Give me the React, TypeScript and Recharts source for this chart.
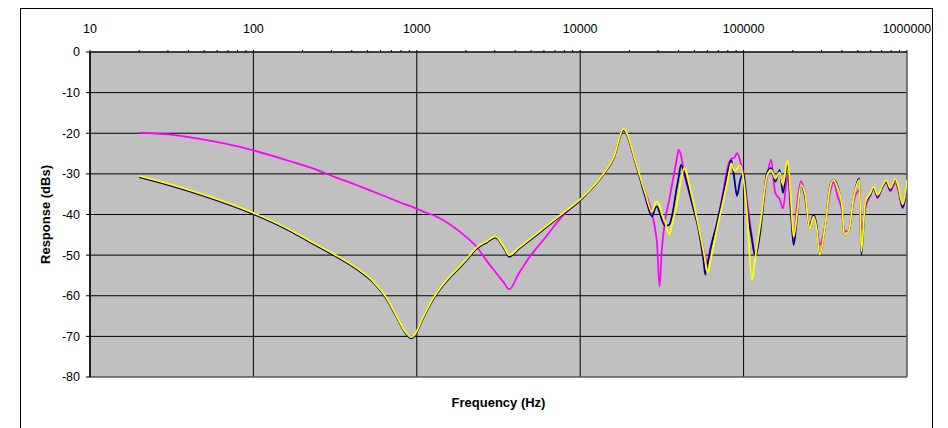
import React from 'react';
import { LineChart, Line, XAxis, YAxis, CartesianGrid, ReferenceArea } from 'recharts';

const freqHz = [
  20, 30, 47, 100, 168, 222, 316, 430, 543, 655, 755, 849, 925, 960, 1098, 1264, 1390, 2000, 2330, 2700, 3020, 3400, 3680,
  4200, 4940, 6000, 7910, 10000, 13800, 16000, 18400, 22200,
  25000, 27500, 28800, 29500, 30600, 31600, 33100, 35100, 36400, 39100, 40000, 41400, 43300, 48300, 53000,
  56900, 58300, 60200, 62500, 68700, 75400, 80900, 84000, 88000, 91100, 95400, 100000, 104900, 112500,
  117900, 126500, 139000, 147100, 156300, 166100, 174200, 185900, 195000, 202300, 212200, 224500, 238500,
  253400, 268100, 281300, 291800, 316200, 339300, 355400, 376200, 400200, 413400, 439100, 471200, 510700,
  525300, 555600, 596400, 624800, 661000, 703200, 747000, 790500, 848100, 888600, 940200, 1000000,
];

const magentaDb = [
  -19.9, -20.3, -21.4, -24.2, -26.9, -28.4, -30.8, -32.8, -34.4, -35.7, -36.7, -37.5, -38.0, -38.3, -39.3, -40.2, -41.0, -45.5, -48.0, -51.6, -54.1, -56.7, -58.4,
  -54.6, -50.3, -46.1, -40.1, -36.5, -30.3, -26.3, -19.2, -28.5,
  -34.5, -39.7, -43.8, -47.0, -57.7, -48.7, -41.3, -36.4, -32.8, -26.1, -24.1, -25.5, -30.0, -36.8, -43.0,
  -48.7, -50.5, -52.3, -48.7, -42.5, -33.8, -27.5, -26.3, -26.0, -24.9, -26.8, -30.6, -36.5, -45.5,
  -50.3, -43.4, -31.0, -26.5, -34.7, -36.2, -38.5, -30.5, -40.0, -46.0, -37.6, -31.8, -35.2,
  -42.5, -40.1, -43.4, -47.5, -42.5, -34.3, -32.0, -35.6, -39.3, -44.0, -44.2, -36.8, -34.0,
  -44.0, -38.5, -35.2, -33.5, -36.0, -33.5, -32.3, -34.3, -32.3, -34.3, -38.5, -31.9,
];

const navyDb = [
  -30.8, -32.7, -35.1, -39.9, -44.1, -46.8, -50.2, -53.5, -56.8, -60.9, -65.4, -69.1, -70.5, -70.1, -65.4, -60.8, -58.4, -51.4, -48.4, -46.8, -45.7, -48.2, -50.4,
  -48.5, -46.3, -43.6, -39.8, -36.5, -30.3, -26.2, -19.3, -28.3,
  -35.6, -40.5, -38.4, -38.0, -39.5, -41.3, -42.8, -42.5, -40.5, -33.1, -31.0, -27.8, -29.8, -37.2, -43.8,
  -51.5, -54.8, -52.0, -48.7, -42.1, -34.7, -28.6, -26.6, -31.5, -35.4, -31.5, -29.8, -38.0, -46.2,
  -50.3, -44.2, -29.8, -28.6, -31.9, -29.0, -34.7, -27.4, -39.3, -47.5, -40.9, -32.7, -36.0,
  -43.4, -40.1, -43.4, -49.9, -42.5, -32.7, -31.5, -33.1, -38.5, -45.0, -44.2, -36.0, -31.1,
  -49.9, -37.2, -35.2, -33.5, -35.6, -33.5, -31.9, -33.9, -31.5, -33.9, -38.2, -32.3,
];

const yellowDb = [
  -30.5, -32.4, -34.8, -39.6, -43.8, -46.5, -49.9, -53.2, -56.5, -60.6, -65.1, -68.8, -70.2, -69.8, -65.1, -60.5, -58.1, -51.1, -48.1, -46.5, -45.4, -47.9, -50.0,
  -48.2, -46.0, -43.3, -39.5, -36.3, -30.1, -26.0, -19.0, -28.0,
  -34.7, -39.3, -37.2, -36.8, -37.8, -39.8, -41.8, -45.0, -42.6, -37.2, -35.0, -31.5, -28.6, -35.5, -42.9,
  -49.1, -51.4, -54.4, -51.7, -43.5, -36.3, -30.5, -27.4, -29.3, -28.8, -27.9, -31.5, -39.5, -56.1,
  -50.5, -42.5, -30.5, -29.0, -31.1, -29.6, -32.7, -26.6, -36.8, -45.5, -40.1, -32.7, -35.2,
  -43.5, -40.5, -44.0, -49.9, -42.5, -33.0, -31.5, -33.5, -38.0, -45.0, -44.2, -36.0, -31.5,
  -49.1, -37.0, -34.8, -33.2, -35.2, -33.2, -31.6, -33.5, -31.2, -33.5, -37.5, -31.5,
];

const decadeTicks = [10, 100, 1000, 10000, 100000, 1000000];
const innerDecades = [100, 1000, 10000, 100000];
const minorMultipliers = [1, 2, 3, 4, 5, 6, 7, 8, 9];
const yTicks = [0, -10, -20, -30, -40, -50, -60, -70, -80];
const innerYTicks = [-10, -20, -30, -40, -50, -60, -70];

const xTicksAll = decadeTicks
  .slice(0, -1)
  .flatMap((d) => minorMultipliers.map((k) => k * d))
  .concat([1000000]);

const data = freqHz.map((f, i) => ({
  f,
  magenta: magentaDb[i],
  navy: navyDb[i],
  yellow: yellowDb[i],
}));

const FONT = '"Liberation Sans", Arial, sans-serif';

export default function App() {
  return (
    <div style={{ position: 'absolute', left: 0, top: 0, width: 948, height: 428, overflow: 'hidden', background: '#fff' }}>
      <div
        style={{
          position: 'absolute',
          left: 20,
          top: 8,
          width: 913,
          height: 440,
          border: '1px solid #000',
          boxSizing: 'border-box',
        }}
      />
      <div style={{ position: 'absolute', left: 0, top: 0 }}>
        <LineChart width={948} height={428} data={data} margin={{ top: 0, right: 41, bottom: 0, left: 0 }}>
          <CartesianGrid
            xAxisId="gridX"
            yAxisId="gridY"
            fill="#C0C0C0"
            fillOpacity={1}
            stroke="#000"
            strokeWidth={1}
          />
          <XAxis
            xAxisId="main"
            dataKey="f"
            type="number"
            scale="log"
            orientation="top"
            domain={[10, 1000000]}
            ticks={xTicksAll}
            interval={0}
            allowDataOverflow
            height={52}
            tickSize={2}
            tickMargin={17}
            axisLine={{ stroke: '#000', strokeWidth: 1 }}
            tickLine={{ stroke: '#000' }}
            tick={{ fill: '#000', fontSize: 12.5, fontFamily: FONT }}
            tickFormatter={(v: number) => (decadeTicks.includes(v) ? String(v) : '')}
          />
          <XAxis
            xAxisId="title"
            dataKey="f"
            type="number"
            scale="log"
            orientation="bottom"
            domain={[10, 1000000]}
            ticks={decadeTicks}
            allowDataOverflow
            height={51}
            tick={false}
            tickLine={false}
            axisLine={false}
            label={{
              value: 'Frequency (Hz)',
              position: 'center',
              style: { fill: '#000', fontSize: 13, fontWeight: 'bold', fontFamily: FONT },
            }}
          />
          <YAxis
            yAxisId="main"
            type="number"
            domain={[-80, 0]}
            ticks={yTicks}
            interval={0}
            allowDataOverflow
            width={90}
            tickSize={4}
            tickMargin={6}
            axisLine={{ stroke: '#000', strokeWidth: 1.5 }}
            tickLine={{ stroke: '#000' }}
            tick={{ fill: '#000', fontSize: 12.5, fontFamily: FONT }}
            label={{
              value: 'Response (dBs)',
              angle: -90,
              position: 'center',
              style: { fill: '#000', fontSize: 13, fontWeight: 'bold', fontFamily: FONT },
            }}
          />
          <XAxis
            xAxisId="gridX"
            dataKey="f"
            type="number"
            scale="log"
            orientation="bottom"
            domain={[10, 1000000]}
            ticks={innerDecades}
            allowDataOverflow
            height={0}
            hide
          />
          <YAxis
            yAxisId="gridY"
            type="number"
            orientation="left"
            domain={[-80, 0]}
            ticks={innerYTicks}
            allowDataOverflow
            width={0}
            hide
          />
          <ReferenceArea
            xAxisId="main"
            yAxisId="main"
            x1={10}
            x2={1000000}
            y1={-80}
            y2={0}
            fill="none"
            stroke="#808080"
            strokeWidth={1}
          />
          <Line
            xAxisId="main"
            yAxisId="main"
            dataKey="magenta"
            type="monotone"
            stroke="#FF00FF"
            strokeWidth={1.75}
            dot={false}
            isAnimationActive={false}
          />
          <Line
            xAxisId="main"
            yAxisId="main"
            dataKey="navy"
            type="monotone"
            stroke="#000080"
            strokeWidth={1.75}
            dot={false}
            isAnimationActive={false}
          />
          <Line
            xAxisId="main"
            yAxisId="main"
            dataKey="yellow"
            type="monotone"
            stroke="#FFFF00"
            strokeWidth={1.75}
            dot={false}
            isAnimationActive={false}
          />
        </LineChart>
      </div>
    </div>
  );
}
